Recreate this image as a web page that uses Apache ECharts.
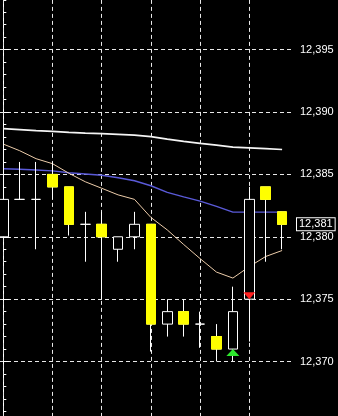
<!DOCTYPE html>
<html>
<head>
<meta charset="utf-8">
<script src="https://cdn.jsdelivr.net/npm/echarts@6/dist/echarts.min.js"></script>
<style>
html,body{margin:0;padding:0;background:#000;}
#chart{width:338px;height:416px;}
</style>
</head>
<body>
<div id="chart"></div>
<script>
// ---- data ----
const opens  = [12380, 12383, 12383, 12385, 12384, 12381, 12381, 12379, 12380, 12381, 12373, 12374, 12373, 12372, 12371, 12375, 12384, 12382];
const closes = [12383, 12383, 12383, 12384, 12381, 12381, 12380, 12380, 12381, 12373, 12374, 12373, 12373, 12371, 12374, 12383, 12383, 12381];
const lows   = [12380, 12383, 12379, 12383, 12380.1, 12378, 12375, 12378, 12379, 12370.8, 12372, 12372, 12371.1, 12370, 12370, 12371.6, 12378, 12379];
const highs  = [12388.5, 12386, 12386, 12386, 12384, 12382, 12382, 12380, 12382, 12381, 12375, 12375, 12374, 12373, 12376, 12384, 12384, 12382];
const maLong  = [12388.67, 12388.59, 12388.51, 12388.45, 12388.37, 12388.31, 12388.27, 12388.21, 12388.15, 12388.03, 12387.83, 12387.65, 12387.49, 12387.35, 12387.19, 12387.13, 12387.07, 12387.0];
const maMid   = [12385.45, 12385.41, 12385.35, 12385.28, 12385.13, 12385.03, 12384.93, 12384.73, 12384.49, 12384.09, 12383.56, 12383.20, 12382.86, 12382.44, 12381.98, 12381.98, 12381.98, 12381.98];
const maShort = [12387.43, 12386.90, 12386.26, 12385.86, 12385.09, 12384.41, 12383.89, 12383.36, 12383.00, 12381.55, 12380.55, 12379.38, 12378.25, 12377.17, 12376.69, 12377.61, 12378.42, 12378.90];
const buySignals  = [14];   // green up arrow under bar
const sellSignals = [15];   // red down arrow
const yMin = 12365, yMax = 12400, yStep = 5;
const gridEvery = 3;        // vertical grid every 3 bars

// ---- build series data ----
const idx = opens.map((_, i) => i);
const candleData = idx.map(i => [i, opens[i], closes[i], lows[i], highs[i]]);
const bodyOverlay = idx.filter(i => closes[i] < opens[i]).map(i => [i, opens[i], closes[i], closes[i], opens[i]]);
const line = arr => arr.map((v, i) => [i, v]);
const fmt = v => String(v).replace(/\B(?=(\d{3})+(?!\d))/g, ',');
const vGrid = idx.filter(i => i % gridEvery === 0).map(i => ({ xAxis: i }));
const lastClose = closes[closes.length - 1];

const FONT = 'Liberation Sans';
const chart = echarts.init(document.getElementById('chart'), null, { renderer: 'canvas' });
chart.setOption({
  backgroundColor: '#000',
  animation: false,
  textStyle: { fontFamily: FONT },
  grid: { left: 0, right: 45, top: -12.7, bottom: -7.9, containLabel: false, outerBoundsMode: 'none' },
  xAxis: {
    type: 'value', min: -0.2012, max: 17.665,
    axisLine: { show: false }, axisTick: { show: false }, axisLabel: { show: false }, splitLine: { show: false }
  },
  yAxis: {
    type: 'value', position: 'right', min: yMin, max: yMax, interval: yStep, scale: true,
    axisLine: { show: true, lineStyle: { color: '#fff', width: 1 } },
    axisTick: { show: true, length: 6, lineStyle: { color: '#fff' } },
    minorTick: { show: true, splitNumber: 5, length: 3, lineStyle: { color: '#fff' } },
    axisLabel: { color: '#fff', fontSize: 11, fontFamily: FONT, margin: 7, formatter: fmt },
    splitLine: { show: true, lineStyle: { color: '#e8e8e8', width: 1, type: [4, 3] } }
  },
  series: [
    {
      type: 'candlestick', name: 'price', data: candleData, barWidth: 10,
      itemStyle: { color: '#000', color0: '#ffff00', borderColor: '#fff', borderColor0: '#fff', borderColorDoji: '#fff', borderWidth: 1 },
      markLine: {
        z: 1, silent: true, symbol: ['none', 'none'], label: { show: false },
        lineStyle: { color: '#e8e8e8', width: 1, type: [4, 3] },
        data: vGrid
      },
      markPoint: {
        silent: true, label: { show: false },
        data: [
          ...sellSignals.map(i => ({ coord: [i, opens[i]], symbol: 'triangle', symbolRotate: 180, symbolSize: [12, 7], symbolOffset: [0, -3.5], itemStyle: { color: '#ff1e1e' } })),
          ...buySignals.map(i => ({ coord: [i, opens[i]], symbol: 'triangle', symbolSize: [13, 7], symbolOffset: [0, 3.5], itemStyle: { color: '#2ee82e' } }))
        ]
      }
    },
    {
      type: 'candlestick', name: 'body', data: bodyOverlay, barWidth: 10,
      itemStyle: { color: '#ffff00', color0: '#ffff00', borderColor: '#ffff00', borderColor0: '#ffff00', borderWidth: 1 },
      markLine: {
        silent: true, symbol: ['none', 'none'],
        lineStyle: { color: 'rgba(0,0,0,0)', width: 0 },
        label: {
          show: true, position: 'end', distance: 4, formatter: () => fmt(lastClose),
          color: '#fff', fontSize: 11, fontFamily: FONT,
          backgroundColor: '#000', borderColor: '#fff', borderWidth: 1, padding: [1, 2, 0, 2]
        },
        data: [{ yAxis: lastClose }]
      }
    },
    { type: 'line', data: line(maLong), showSymbol: false, lineStyle: { color: '#f4f4f4', width: 1.6 }, z: 1 },
    { type: 'line', data: line(maMid), showSymbol: false, lineStyle: { color: '#5a5ad8', width: 1.4 }, z: 1 },
    { type: 'line', data: line(maShort), showSymbol: false, lineStyle: { color: '#ecccaa', width: 1 }, z: 1 }
  ]
});
</script>
</body>
</html>
